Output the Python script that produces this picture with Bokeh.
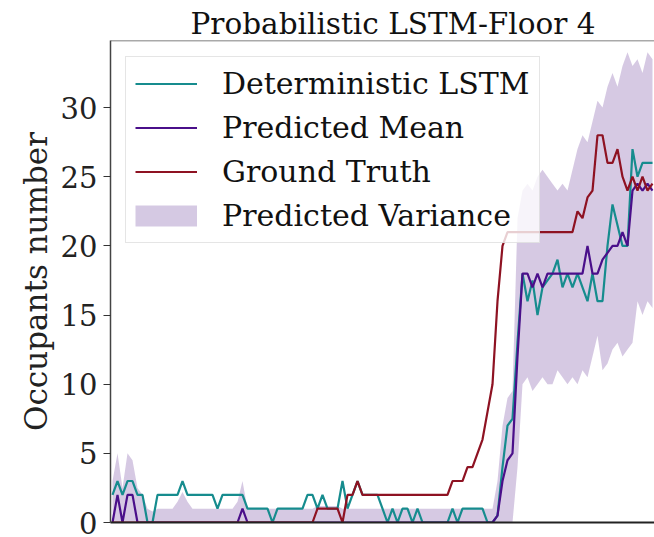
from bokeh.plotting import figure
from bokeh.models import Legend, LegendItem, Span, FixedTicker
from bokeh.embed import file_html
from bokeh.resources import INLINE

# time step index
steps = list(range(109))

deterministic = [2, 3, 2, 3, 3, 2, 2, 0, 0, 2,
                 2, 2, 2, 2, 3, 2, 2, 2, 2, 2,
                 2, 1, 2, 2, 2, 2, 2, 1, 1, 1,
                 1, 1, 0, 1, 1, 1, 1, 1, 1, 2,
                 2, 1, 2, 1, 1, 1, 3, 1, 2, 3,
                 2, 2, 2, 2, 1, 0, 1, 0, 1, 1,
                 0, 1, 0, 0, 0, 0, 0, 0, 1, 0,
                 1, 1, 1, 1, 1, 0, 0, 0.5, 4, 7,
                 7.5, 13, 18, 16, 17.5, 15, 17, 17.5, 18, 19,
                 17, 18, 17, 18, 17, 16, 18, 16, 16, 20,
                 23, 21.5, 20, 20, 27, 25, 26, 26, 26]

pred_mean = [0, 2, 0, 2, 2, 0, 0, 0, 0, 0,
             0, 0, 0, 0, 0, 0, 0, 0, 0, 0,
             0, 0, 0, 0, 0, 0, 1, 0, 0, 0,
             0, 0, 0, 0, 0, 0, 0, 0, 0, 0,
             0, 0, 0, 0, 0, 0, 0, 0, 0, 0,
             0, 0, 0, 0, 0, 0, 0, 0, 0, 0,
             0, 0, 0, 0, 0, 0, 0, 0, 0, 0,
             0, 0, 0, 0, 0, 0, 0, 0.5, 3, 4.5,
             5, 12, 18, 18, 17, 18, 17, 18, 18, 18,
             18, 18, 18, 18, 18, 20, 18, 18, 19, 19.5,
             20, 20, 21, 20, 24, 24.5, 24, 24.5, 24]

ground_truth = [0, 0, 0, 0, 0, 0, 0, 0, 0, 0,
                0, 0, 0, 0, 0, 0, 0, 0, 0, 0,
                0, 0, 0, 0, 0, 0, 0, 0, 0, 0,
                0, 0, 0, 0, 0, 0, 0, 0, 0, 0,
                0, 1, 1, 1, 1, 1, 0, 2, 2, 3,
                2, 2, 2, 2, 2, 2, 2, 2, 2, 2,
                2, 2, 2, 2, 2, 2, 2, 2, 3, 3,
                3, 4, 4, 5, 6, 8, 10, 16, 20, 21,
                21, 21, 21, 21, 21, 21, 21, 21, 21, 21,
                21, 21, 21, 22.5, 22, 23.5, 24, 28, 28, 26,
                26, 27, 25, 24, 25, 24, 25, 24, 24.5]

var_upper = [3, 5, 2.5, 5, 4.5, 2.5, 2, 1, 0.8, 1,
             1, 1, 1, 1.5, 2.2, 1.5, 1, 1, 1, 1,
             1, 1, 1, 1, 1, 1.5, 3, 1, 1, 1,
             1, 1, 1, 1, 1, 1, 1, 1, 1, 1,
             1, 1.2, 1.2, 1.2, 1.2, 1.2, 1, 1, 1, 1,
             1, 1, 1, 1, 1, 1, 1, 1, 1, 1,
             1, 1, 1, 1, 1, 1, 1, 1, 1, 1,
             1, 1, 1, 1, 1, 1, 1, 3, 7, 9,
             9.5, 22, 24, 24.5, 24, 25, 25.5, 25, 24.5, 24,
             24.5, 24, 25.5, 27, 28, 27.5, 29, 30.5, 30, 31.5,
             32.5, 31.5, 33, 34, 33, 33.5, 32.5, 34, 33.5]

var_lower = [0, 0, 0, 0, 0, 0, 0, 0, 0, 0,
             0, 0, 0, 0, 0, 0, 0, 0, 0, 0,
             0, 0, 0, 0, 0, 0, 0, 0, 0, 0,
             0, 0, 0, 0, 0, 0, 0, 0, 0, 0,
             0, 0, 0, 0, 0, 0, 0, 0, 0, 0,
             0, 0, 0, 0, 0, 0, 0, 0, 0, 0,
             0, 0, 0, 0, 0, 0, 0, 0, 0, 0,
             0, 0, 0, 0, 0, 0, 0, 0, 0, 0,
             0, 4, 10, 10.5, 9.5, 10, 10.5, 10, 10, 11,
             10.5, 10, 10.5, 10, 11, 10.5, 12, 13.5, 11, 11.5,
             12.5, 13, 12, 12.5, 13, 16, 15, 16, 15.5]

y_ticks = [0, 5, 10, 15, 20, 25, 30]

TEAL = "#168c8e"
PURPLE = "#4a0f8a"
RED = "#8e1222"
FILL = "#6a3d9a"
FONT = "DejaVu Serif"
Y_END = 34.85

p = figure(width=654, height=537, x_range=(-0.4, 108.4), y_range=(0, Y_END),
           output_backend="svg", toolbar_location=None,
           min_border_left=110, min_border_right=0, min_border_top=40,
           min_border_bottom=15, title="Probabilistic LSTM-Floor 4")
p.outline_line_color = None
p.xgrid.visible = False
p.ygrid.visible = False
p.background_fill_color = "white"
p.border_fill_color = "white"

p.title.text_font = FONT
p.title.text_font_size = "29.5px"
p.title.text_font_style = "normal"
p.title.text_color = "#111111"
p.title.align = "left"
p.title.offset = 80
p.title.standoff = 0

# axes
p.xaxis.ticker = FixedTicker(ticks=[])
p.xaxis.major_tick_line_color = None
p.xaxis.minor_tick_line_color = None
p.xaxis.major_label_text_color = None
p.xaxis.axis_line_color = "#222222"
p.xaxis.axis_line_width = 1.8

p.yaxis.ticker = FixedTicker(ticks=y_ticks)
p.yaxis.minor_tick_line_color = None
p.yaxis.major_tick_in = 0
p.yaxis.major_tick_out = 7
p.yaxis.major_tick_line_color = "#333333"
p.yaxis.major_tick_line_width = 1.2
p.yaxis.axis_line_color = "#444444"
p.yaxis.axis_line_width = 1.5
p.yaxis.major_label_text_font = FONT
p.yaxis.major_label_text_font_size = "29px"
p.yaxis.major_label_text_color = "#222222"
p.yaxis.major_label_standoff = 6
p.yaxis.axis_label = "Occupants number"
p.yaxis.axis_label_text_font = FONT
p.yaxis.axis_label_text_font_size = "31px"
p.yaxis.axis_label_text_font_style = "normal"
p.yaxis.axis_label_text_color = "#222222"
p.yaxis.axis_label_standoff = 4

top_spine = Span(location=Y_END, dimension="width", line_color="#555555", line_width=1.5)
p.add_layout(top_spine)

band = p.varea(x=steps, y1=var_lower, y2=var_upper, fill_color=FILL, fill_alpha=0.28)
l_det = p.line(steps, deterministic, line_color=TEAL, line_width=2.2)
l_mean = p.line(steps, pred_mean, line_color=PURPLE, line_width=2.2)
l_gt = p.line(steps, ground_truth, line_color=RED, line_width=2.2)
# legend swatch for the variance band (placed outside the visible range)
swatch = p.line(x=[-10, -9], y=[-10, -10], line_color="#d5c9e3", line_width=21,
                line_cap="butt")

legend = Legend(items=[
    LegendItem(label="Deterministic LSTM", renderers=[l_det]),
    LegendItem(label="Predicted Mean", renderers=[l_mean]),
    LegendItem(label="Ground Truth", renderers=[l_gt]),
    LegendItem(label="Predicted Variance", renderers=[swatch]),
], location=(15, 279.5))
legend.label_text_font = FONT
legend.label_text_font_size = "30px"
legend.label_text_color = "#111111"
legend.glyph_width = 62
legend.glyph_height = 35
legend.label_height = 35
legend.spacing = 9
legend.padding = 9
legend.margin = 0
legend.label_standoff = 25
legend.background_fill_color = "white"
legend.background_fill_alpha = 0.8
legend.border_line_color = "#cccccc"
legend.border_line_width = 1
p.add_layout(legend)

html = file_html(p, INLINE)
open("out.html", "w").write(html)
